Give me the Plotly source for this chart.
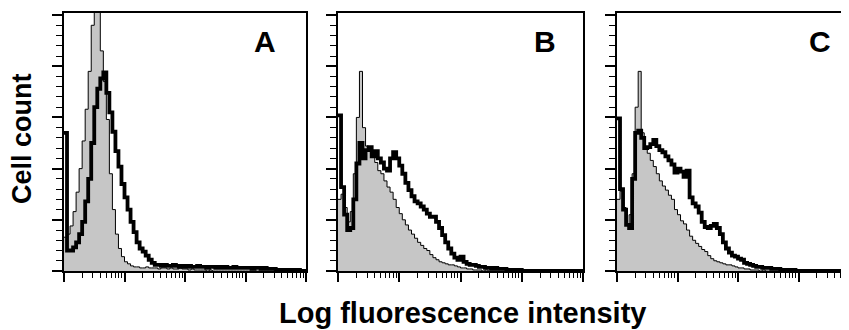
import numpy as np
import plotly.graph_objects as go

# ---------------- data ----------------
BIN = 0.05  # width of one histogram channel, in decades of fluorescence

gray_A = [33, 36, 44, 58, 77, 100, 127, 158, 195, 240, 258, 255, 215, 185, 148, 95, 60, 36, 22, 14,
          9, 7, 5, 4, 4, 3, 3, 4, 3, 3, 3, 2, 3, 3, 2, 3, 2, 2, 3, 2,
          2, 1, 2, 1, 1, 1, 1, 0, 1, 0, 0, 0, 0, 0, 0, 0, 0, 0, 0, 0,
          0, 0, 0, 0, 0, 0, 0, 0, 0, 0, 0, 0, 0, 0, 0, 0, 0, 0, 0, 0]
thick_A = [135, 20, 20, 23, 28, 36, 48, 68, 90, 125, 160, 178, 188, 194, 174, 155, 136, 117, 102, 85,
           72, 60, 48, 38, 28, 22, 19, 15, 11, 8, 6, 6, 5, 6, 5, 5, 6, 5, 4, 5,
           4, 5, 4, 4, 5, 4, 4, 3, 4, 4, 3, 4, 3, 4, 3, 3, 4, 3, 3, 3,
           3, 3, 2, 3, 3, 2, 3, 2, 2, 2, 1, 1, 1, 1, 1, 1, 1, 1, 0, 0]

gray_B = [70, 75, 62, 48, 58, 95, 150, 195, 140, 122, 118, 112, 106, 98, 95, 88, 82, 77, 70, 62,
          56, 50, 45, 40, 36, 32, 28, 25, 22, 20, 16, 13, 11, 9, 8, 7, 6, 6, 5, 4,
          3, 3, 2, 2, 1, 1, 1, 0, 1, 0, 0, 0, 0, 0, 0, 0, 0, 0, 0, 0,
          0, 0, 0, 0, 0, 0, 0, 0, 0, 0, 0, 0, 0, 0, 0, 0, 0, 0, 0, 0]
thick_B = [152, 82, 55, 40, 42, 70, 105, 125, 110, 118, 121, 112, 117, 110, 106, 100, 98, 110, 116, 110,
           103, 95, 86, 79, 73, 68, 66, 63, 60, 56, 53, 53, 48, 42, 35, 28, 22, 17, 13, 11,
           14, 9, 7, 6, 6, 5, 4, 4, 3, 3, 2, 3, 2, 2, 2, 1, 1, 1, 1, 1,
           0, 0, 0, 0, 0, 0, 0, 0, 0, 0, 0, 0, 0, 0, 0, 0, 0, 0, 0, 0]

gray_C = [70, 78, 62, 45, 55, 95, 160, 195, 135, 120, 115, 108, 102, 95, 88, 83, 79, 74, 70, 60,
          55, 49, 46, 40, 34, 30, 27, 24, 21, 19, 15, 12, 10, 9, 8, 7, 6, 6, 5, 4,
          3, 3, 2, 2, 1, 1, 1, 0, 1, 0, 0, 0, 0, 0, 0, 0, 0, 0, 0, 0,
          0, 0, 0, 0, 0, 0, 0, 0, 0, 0, 0, 0, 0, 0, 0, 0, 0, 0, 0, 0]
thick_C = [149, 80, 60, 45, 42, 90, 135, 137, 130, 120, 121, 124, 128, 122, 118, 116, 112, 108, 104, 96,
           100, 97, 92, 98, 72, 66, 63, 57, 48, 43, 42, 44, 46, 42, 36, 28, 22, 18, 15, 14,
           12, 11, 8, 7, 6, 5, 4, 4, 3, 3, 3, 2, 2, 2, 1, 1, 1, 1, 1, 0,
           0, 0, 0, 0, 0, 0, 0, 0, 0, 0, 0, 0, 0, 0, 0, 0, 0, 0, 0, 0]

panel_labels = ["A", "B", "C"]
x_title = "Log fluorescence intensity"
y_title = "Cell count"

# ---------------- figure ----------------
OFF = 8                      # default page margin of the html body
W, H = 849 - OFF, 330 - OFF  # figure size that fits the window


def px_x(p):  # page pixel -> paper fraction
    return (p - OFF) / W


def px_y(p):
    return 1 - (p - OFF) / H


series = [(gray_A, thick_A), (gray_B, thick_B), (gray_C, thick_C)]
x_dom = [(px_x(64), px_x(306)), (px_x(338), px_x(583)), (px_x(617), 1.0)]
x_rng = [[0, 4], [0, 4], [0, 232 / 60.5]]
y_dom = (px_y(271), px_y(13))
lbl_x = [265, 545, 820]

major_x = [10 ** k for k in range(5)]
minor_x = [m * 10 ** k for k in range(4) for m in range(2, 10)]

fig = go.Figure()
for i, (g, t) in enumerate(series):
    n = len(g)
    edges = 10 ** (np.arange(n + 1) * BIN)
    gy = list(g) + [g[-1]]
    ty = list(t) + [t[-1]]
    ax = "" if i == 0 else str(i + 1)
    fig.add_trace(go.Scatter(x=edges, y=gy, mode="lines", line_shape="hv",
                             line=dict(color="black", width=1),
                             fill="tozeroy", fillcolor="#c6c6c6",
                             xaxis="x" + ax, yaxis="y" + ax, showlegend=False,
                             hoverinfo="skip"))
    fig.add_trace(go.Scatter(x=edges, y=ty, mode="lines", line_shape="hv",
                             line=dict(color="black", width=3.8),
                             xaxis="x" + ax, yaxis="y" + ax, showlegend=False,
                             hoverinfo="skip"))
    xa = dict(type="log", domain=list(x_dom[i]), range=x_rng[i], anchor="y" + ax,
              showline=True, linecolor="black", linewidth=2, mirror=True,
              ticks="outside", tickmode="array", tickvals=major_x, ticklen=9,
              tickwidth=1.6, tickcolor="black", showticklabels=False,
              showgrid=False, zeroline=False,
              minor=dict(tickmode="array", tickvals=minor_x, ticks="outside",
                         ticklen=5, tickwidth=1.4, tickcolor="black", showgrid=False))
    ya = dict(domain=list(y_dom), range=[0, 252], anchor="x" + ax,
              showline=True, linecolor="black", linewidth=2, mirror=(i < 2),
              ticks="outside", tick0=0, dtick=50, ticklen=10, tickwidth=1.6,
              tickcolor="black", showticklabels=False, showgrid=False, zeroline=False,
              minor=dict(dtick=10, ticks="outside", ticklen=6, tickwidth=1.4,
                         tickcolor="black", showgrid=False))
    fig.update_layout(**{"xaxis" + ax: xa, "yaxis" + ax: ya})
    fig.add_annotation(text=panel_labels[i], xref="paper", yref="paper",
                       x=px_x(lbl_x[i]), y=px_y(42), showarrow=False,
                       xanchor="center", yanchor="middle",
                       font=dict(family="Liberation Sans, Arial", size=30,
                                 color="black", weight="bold"))

fig.add_annotation(text=x_title, xref="paper", yref="paper", x=px_x(463), y=px_y(313),
                   showarrow=False, xanchor="center", yanchor="middle",
                   font=dict(family="Liberation Sans, Arial", size=29, color="black",
                             weight="bold"))
fig.add_annotation(text=y_title, xref="paper", yref="paper", x=px_x(22), y=px_y(139),
                   showarrow=False, xanchor="center", yanchor="middle", textangle=-90,
                   font=dict(family="Liberation Sans, Arial", size=27, color="black",
                             weight="bold"))

fig.update_layout(width=W, height=H, margin=dict(l=0, r=0, t=0, b=0),
                  paper_bgcolor="white", plot_bgcolor="white")
fig.write_html("out.html")
